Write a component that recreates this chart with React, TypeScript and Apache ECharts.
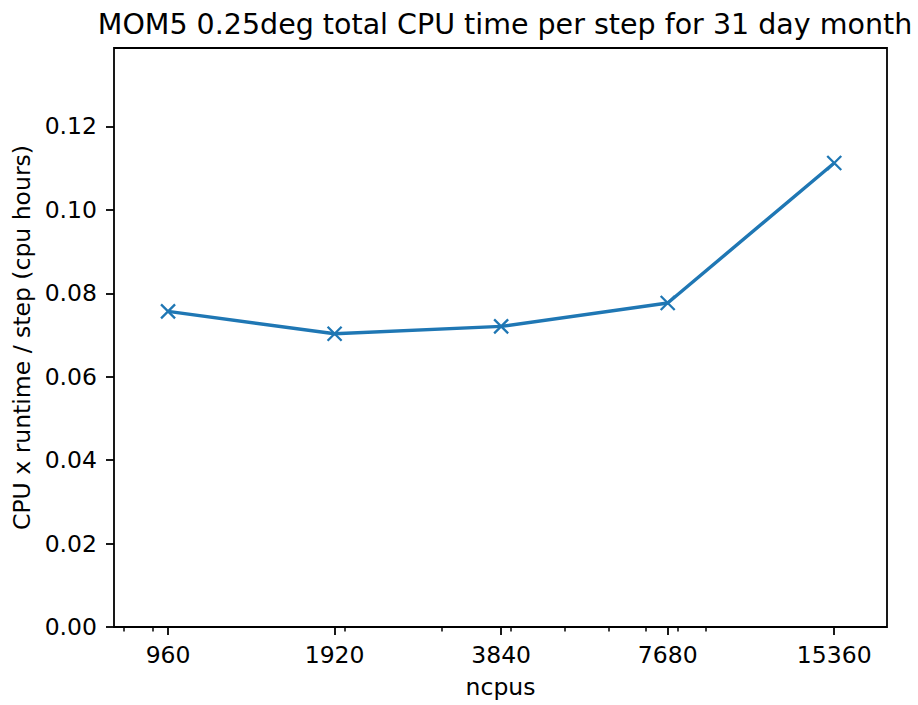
import React, { useEffect, useRef } from "react";
import * as echarts from "echarts";

const title = "MOM5 0.25deg total CPU time per step for 31 day month";
const ncpus = [960, 1920, 3840, 7680, 15360];
const cpuHours = [0.07565, 0.07031, 0.07206, 0.07767, 0.11123];
const xTickValues = [960, 1920, 3840, 7680, 15360];
const xMinorTickValues = [800, 900, 2000, 3000, 4000, 5000, 6000, 7000, 8000, 9000];
const yTickValues = [0, 0.02, 0.04, 0.06, 0.08, 0.1, 0.12];
const xName = "ncpus";
const yName = "CPU x runtime / step (cpu hours)";

const FONT = "DejaVu Sans";
const BLUE = "#1f77b4";

export default function App() {
  const ref = useRef<HTMLDivElement>(null);
  useEffect(() => {
    document.body.style.margin = "0";
    if (!ref.current) return;
    const chart = echarts.init(ref.current, null, { renderer: "svg" });
    const xMin = 766.6;
    const xMax = 19131;
    chart.setOption({
      animation: false,
      backgroundColor: "#ffffff",
      title: {
        text: title,
        left: 500,
        top: 5,
        textAlign: "center",
        textStyle: { fontFamily: FONT, fontSize: 28.5, fontWeight: "normal", color: "#000" },
      },
      grid: {
        left: 114,
        right: 31,
        top: 48,
        bottom: 78,
        show: true,
        borderColor: "#000",
        borderWidth: 1.8,
        backgroundColor: "transparent",
      },
      xAxis: [
        {
          type: "log",
          logBase: 10,
          min: xMin,
          max: xMax,
          name: xName,
          nameLocation: "middle",
          nameGap: 48,
          nameTextStyle: { fontFamily: FONT, fontSize: 23.5, color: "#000" },
          axisLine: { show: false },
          splitLine: { show: false },
          minorTick: { show: false },
          axisTick: {
            show: true,
            length: 8,
            lineStyle: { color: "#000", width: 1.8 },
            customValues: xTickValues,
          },
          axisLabel: {
            fontFamily: FONT,
            fontSize: 23.5,
            color: "#000",
            margin: 16,
            customValues: xTickValues,
            formatter: (v: number) => String(Math.round(v)),
          },
        },
        {
          type: "log",
          logBase: 10,
          min: xMin,
          max: xMax,
          position: "bottom",
          axisLine: { show: false },
          splitLine: { show: false },
          axisTick: {
            show: true,
            length: 4.6,
            lineStyle: { color: "#000", width: 1.5 },
            customValues: xMinorTickValues,
          },
          axisLabel: { show: false },
        },
      ],
      yAxis: {
        type: "value",
        min: 0,
        max: 0.1388,
        name: yName,
        nameLocation: "middle",
        nameGap: 80,
        nameRotate: 90,
        nameTextStyle: { fontFamily: FONT, fontSize: 23.5, color: "#000" },
        axisLine: { show: false },
        splitLine: { show: false },
        axisTick: {
          show: true,
          length: 8,
          lineStyle: { color: "#000", width: 1.8 },
          customValues: yTickValues,
        },
        axisLabel: {
          fontFamily: FONT,
          fontSize: 23.5,
          color: "#000",
          margin: 17,
          customValues: yTickValues,
          formatter: (v: number) => v.toFixed(2),
        },
      },
      series: [
        {
          type: "line",
          xAxisIndex: 0,
          data: ncpus.map((n, i) => [n, cpuHours[i]]),
          lineStyle: { color: BLUE, width: 3.4 },
          symbol: "path://M0,0L10,10M10,0L0,10",
          symbolSize: 14,
          itemStyle: { color: BLUE, borderColor: BLUE, borderWidth: 2.3 },
          emphasis: { disabled: true },
        },
      ],
    });
    return () => chart.dispose();
  }, []);
  return <div ref={ref} style={{ width: 918, height: 705 }} />;
}
